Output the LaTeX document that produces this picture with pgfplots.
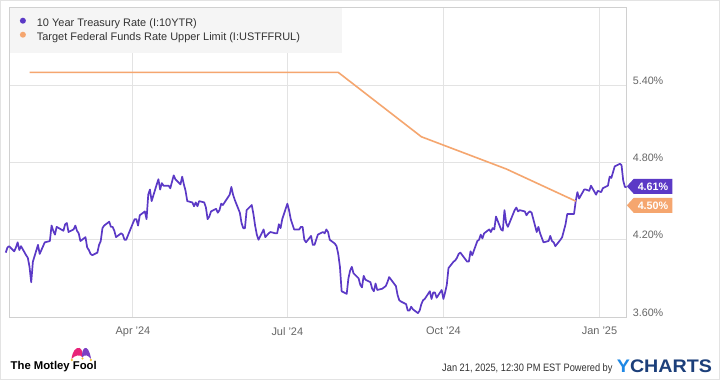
\documentclass[border=0pt]{standalone}
\usepackage{fontspec}
\setmainfont{Liberation Sans}
\usepackage{graphicx}
\usepackage{pgfplots}
\pgfplotsset{compat=1.18}
\usetikzlibrary{shapes.symbols}
\definecolor{tpurple}{HTML}{5B39C6}
\definecolor{torange}{HTML}{F5A66F}
\definecolor{gridc}{HTML}{E3E3E3}
\definecolor{framec}{HTML}{D0D0D0}
\definecolor{ticktext}{HTML}{666666}
\definecolor{legbg}{HTML}{F5F5F5}
\definecolor{foottext}{HTML}{333333}
\definecolor{ylight}{HTML}{1E88E5}
\definecolor{ydark}{HTML}{1C3F7A}
\definecolor{foolpink}{HTML}{E8247A}
\definecolor{foolpurple}{HTML}{7B3FC4}
\definecolor{foolyellow}{HTML}{F2C230}

% 10 Year Treasury (day number from 1 Jan 2024, yield %)
\pgfplotstableread{
d v
16 4.10
17 4.14
18 4.15
21 4.11
22 4.14
23 4.18
24 4.12
25 4.15
28 4.08
29 4.06
30 3.99
31 3.87
32 4.03
35 4.16
36 4.09
37 4.12
38 4.15
39 4.18
42 4.19
43 4.31
44 4.27
45 4.24
46 4.30
50 4.27
51 4.32
52 4.33
53 4.26
56 4.28
57 4.31
58 4.27
59 4.25
60 4.19
63 4.22
64 4.14
65 4.12
66 4.09
67 4.08
70 4.10
71 4.16
72 4.19
73 4.29
74 4.31
77 4.34
78 4.30
79 4.30
80 4.27
81 4.22
84 4.25
85 4.24
86 4.20
87 4.20
91 4.33
92 4.36
93 4.36
94 4.31
95 4.39
98 4.42
99 4.36
100 4.55
101 4.59
102 4.50
105 4.63
106 4.67
107 4.59
108 4.64
109 4.62
112 4.62
113 4.60
114 4.65
115 4.70
116 4.67
119 4.63
120 4.69
121 4.63
122 4.58
123 4.50
126 4.49
127 4.46
128 4.49
129 4.46
130 4.50
133 4.49
134 4.45
135 4.36
136 4.38
137 4.42
140 4.44
141 4.41
142 4.43
143 4.48
144 4.47
148 4.55
149 4.61
150 4.55
151 4.51
154 4.41
155 4.33
156 4.29
157 4.29
158 4.43
161 4.47
162 4.40
163 4.31
164 4.24
165 4.20
168 4.28
169 4.22
171 4.25
172 4.26
175 4.25
176 4.25
177 4.32
178 4.29
179 4.36
182 4.48
183 4.43
184 4.36
186 4.28
189 4.28
190 4.30
191 4.30
192 4.20
193 4.18
196 4.23
197 4.16
198 4.16
199 4.20
200 4.24
203 4.26
204 4.25
205 4.28
206 4.26
207 4.20
210 4.17
211 4.15
212 4.09
213 3.99
214 3.80
217 3.78
218 3.90
219 3.96
220 3.99
221 3.94
224 3.90
225 3.85
226 3.83
227 3.92
228 3.89
231 3.87
232 3.82
233 3.80
234 3.86
235 3.81
238 3.82
239 3.83
240 3.84
241 3.87
242 3.91
246 3.84
247 3.77
248 3.73
249 3.72
252 3.70
253 3.65
254 3.65
255 3.68
256 3.66
259 3.63
260 3.65
261 3.70
262 3.73
263 3.74
266 3.80
267 3.74
268 3.79
269 3.79
270 3.75
273 3.81
274 3.74
275 3.79
276 3.85
277 3.98
280 4.03
281 4.04
282 4.06
283 4.09
284 4.10
288 4.03
289 4.03
290 4.11
291 4.08
294 4.19
295 4.20
296 4.24
297 4.21
298 4.25
301 4.28
302 4.26
303 4.29
304 4.28
305 4.38
308 4.28
309 4.27
310 4.43
311 4.33
312 4.30
316 4.43
317 4.45
318 4.42
319 4.43
322 4.42
323 4.39
324 4.41
325 4.42
326 4.41
329 4.26
330 4.30
331 4.25
333 4.18
336 4.19
337 4.23
338 4.19
339 4.18
340 4.15
343 4.20
344 4.22
345 4.27
346 4.32
347 4.40
350 4.40
351 4.40
352 4.50
353 4.57
354 4.52
357 4.59
358 4.59
360 4.58
361 4.62
364 4.55
365 4.58
367 4.57
368 4.60
371 4.62
372 4.69
373 4.68
375 4.77
378 4.79
379 4.78
380 4.66
381 4.61
382 4.61
}\tenyr

% Target Fed Funds upper limit at FOMC dates
\pgfplotstableread{
d v
30 5.50
212 5.50
261 5.00
311 4.75
352 4.50
}\fedfunds

\begin{document}
\begin{tikzpicture}
\useasboundingbox (0,0) rectangle (720bp,380bp);
\fill[white] (0,0) rectangle (720bp,380bp);
\draw[gray!22, line width=1bp] (0.5bp,0.5bp) rectangle (719.5bp,379.5bp);
\begin{axis}[
  at={(10bp,63bp)}, anchor=south west,
  width=616.6bp, height=309bp, scale only axis,
  xmin=18.5, xmax=382, ymin=3.6, ymax=6.0,
  axis line style={draw=framec, line width=1bp},
  major tick length=0pt,
  xtick={91,182,274,366},
  xticklabels={Apr '24, Jul '24, Oct '24, Jan '25},
  ytick={3.6,4.2,4.8,5.4},
  yticklabels={3.60\%,4.20\%,4.80\%,5.40\%},
  yticklabel pos=right,
  grid=major,
  grid style={draw=gridc, line width=1bp},
  xticklabel style={anchor=north, inner sep=0pt, yshift=-10bp, font=\fontsize{11}{13}\selectfont, text=ticktext},
  yticklabel style={anchor=base west, inner sep=0pt, xshift=6bp, yshift=1bp, font=\fontsize{10.8}{13}\selectfont, text=ticktext},
  legend style={at={(0,1)}, anchor=north west, fill=legbg, draw=none,
    inner xsep=0pt, inner ysep=9.5bp, row sep=2bp,
    font=\fontsize{11}{13}\selectfont, text=foottext,
    nodes={inner sep=0pt, text height=9bp, text depth=3bp},
    /tikz/every odd column/.style={column sep=0pt}},
  legend cell align=left,
  legend image code/.code={\path[draw=none,fill=none] (0bp,-2bp) rectangle (26.7bp,2bp); \fill[#1, draw=none] (12.7bp,0.3em) circle (3bp);},
  clip=false,
]
\addplot[tpurple, line width=1.7bp, line join=round] table[x=d, y=v] {\tenyr};
\addlegendentry{\makebox[305bp][l]{10 Year Treasury Rate (I:10YTR)}}
\addplot[torange, line width=1.6bp, line join=round] table[x=d, y=v] {\fedfunds};
\addlegendentry{\makebox[305bp][l]{Target Federal Funds Rate Upper Limit (I:USTFFRUL)}}

\node[signal, signal to=west, signal pointer angle=95, fill=tpurple, text=white,
  font=\bfseries\fontsize{10.8}{12}\selectfont, inner xsep=4bp, inner ysep=0pt,
  minimum height=15bp, text height=8bp, text depth=0pt, anchor=west]
  at (axis cs:382,4.615) {4.61\%};
\node[signal, signal to=west, signal pointer angle=95, fill=torange, text=white,
  font=\bfseries\fontsize{10.8}{12}\selectfont, inner xsep=4bp, inner ysep=0pt,
  minimum height=15bp, text height=8bp, text depth=0pt, anchor=west, yshift=-19bp]
  at (axis cs:382,4.615) {4.50\%};
\end{axis}

% footer: The Motley Fool
\node[anchor=base west, inner sep=0pt, text=black] at (10.5bp,10.5bp)
  {\resizebox{86bp}{!}{\bfseries The Motley Fool}};
\fill[foolpink] (71.5bp,21bp) .. controls (72.5bp,29bp) and (76bp,33bp) .. (79.5bp,32bp)
  .. controls (82bp,31bp) and (83bp,27bp) .. (83bp,22.5bp)
  .. controls (80bp,26bp) and (75bp,25bp) .. (71.5bp,21bp) -- cycle;
\fill[foolpurple] (91bp,21bp) .. controls (90bp,29bp) and (87bp,33bp) .. (85bp,32bp)
  .. controls (82.5bp,31bp) and (82bp,27bp) .. (82bp,22.5bp)
  .. controls (85bp,26bp) and (88bp,25bp) .. (91bp,21bp) -- cycle;
\fill[foolyellow] (71.8bp,20bp) circle (1.3bp);
\fill[foolyellow] (90.8bp,20bp) circle (1.3bp);
\fill[foolyellow] (82.5bp,21.5bp) circle (1.1bp);

% footer: timestamp and YCharts
\node[anchor=base east, inner sep=0pt, text=foottext] at (612.7bp,8.3bp)
  {\scalebox{0.86}[1]{\fontsize{10.8}{13}\selectfont Jan 21, 2025, 12:30 PM EST Powered by}};
\node[anchor=south west, inner sep=0pt] at (616.7bp,7.3bp)
  {\resizebox{95bp}{12.7bp}{\bfseries\textcolor{ylight}{Y}\textcolor{ydark}{CHARTS}}};
\end{tikzpicture}
\end{document}
